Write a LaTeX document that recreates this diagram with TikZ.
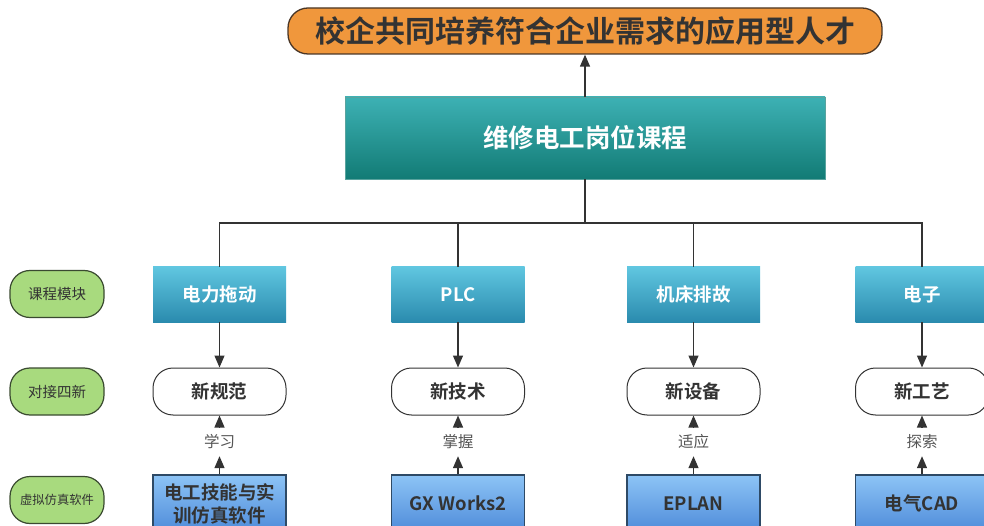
\documentclass[tikz,border=0pt]{standalone}
\usepackage{fontspec}
\setmainfont{Noto Sans CJK SC}
\newfontfamily\cjkb{Noto Sans CJK SC Bold}
\usetikzlibrary{arrows.meta}
\definecolor{orangefill}{HTML}{F0973C}
\definecolor{orangeline}{HTML}{4A3626}
\definecolor{darktxt}{HTML}{333333}
\definecolor{tealtop}{HTML}{3DB1B4}
\definecolor{tealbot}{HTML}{127B75}
\definecolor{modtop}{HTML}{60C6E0}
\definecolor{modbot}{HTML}{2A8BAE}
\definecolor{bluetop}{HTML}{8DC4F6}
\definecolor{bluebot}{HTML}{4E8BD9}
\definecolor{blueline}{HTML}{2E4A66}
\definecolor{greenfill}{HTML}{A8DA7E}
\definecolor{greenline}{HTML}{3A4A30}
\definecolor{labgrey}{HTML}{555555}
\tikzset{
  goalbox/.style={draw=orangeline, line width=1.3pt, fill=orangefill, rounded corners=20pt,
    minimum width=594pt, minimum height=46pt, text=darktxt, font=\cjkb\fontsize{30}{32}\selectfont},
  mainbox/.style={top color=tealtop, bottom color=tealbot, draw=tealbot!70, minimum width=480pt,
    minimum height=82pt, text=white, font=\cjkb\fontsize{25.5}{28}\selectfont},
  modbox/.style={top color=modtop, bottom color=modbot, minimum width=133pt, minimum height=55pt,
    text=white, font=\cjkb\fontsize{18.5}{22}\selectfont},
  newbox/.style={draw=darktxt, line width=1pt, fill=white, rounded corners=20pt, minimum width=133pt,
    minimum height=47pt, text=darktxt, font=\cjkb\fontsize{18.5}{22}\selectfont},
  softbox/.style={top color=bluetop, bottom color=bluebot, draw=blueline, line width=1.3pt,
    minimum width=133pt, minimum height=57pt, text=darktxt, align=center,
    font=\cjkb\fontsize{18.5}{23}\selectfont},
  sidebox/.style={draw=greenline, line width=1.2pt, fill=greenfill, rounded corners=20pt,
    minimum width=94pt, minimum height=47pt, text=darktxt, font=\fontsize{14.5}{16}\selectfont},
  lab/.style={inner sep=0pt, minimum height=28pt, text=labgrey, font=\fontsize{15.5}{17}\selectfont},
  conn/.style={draw=darktxt, line width=1.3pt},
  arr/.style={conn, -{Triangle[length=12pt,width=10pt]}},
}
\begin{document}
\begin{tikzpicture}[x=1pt,y=-1pt]
\useasboundingbox (0,0) rectangle (984,526);
\clip (0,0) rectangle (984,526);
\node[goalbox] (goal) at (585,31) {校企共同培养符合企业需求的应用型人才};
\node[mainbox] (main) at (585,138) {维修电工岗位课程};
\draw[arr] (main.north) -- (goal.south);

\node[modbox] (m1) at (219.5,294.5) {电力拖动};
\node[modbox] (m2) at (458,294.5) {PLC};
\node[modbox] (m3) at (693.5,294.5) {机床排故};
\node[modbox] (m4) at (922,294.5) {电子};

\coordinate (bus) at (585,223);
\draw[conn] (main.south) -- (bus);
\draw[conn] (m1.north) |- (bus) -| (m4.north);
\draw[conn] (m2.north) -- (m2.north |- bus);
\draw[conn] (m3.north) -- (m3.north |- bus);

\node[newbox] (n1) at (219.5,391.5) {新规范};
\node[newbox] (n2) at (458,391.5) {新技术};
\node[newbox] (n3) at (693.5,391.5) {新设备};
\node[newbox] (n4) at (922,391.5) {新工艺};

\foreach \i in {1,2,3,4} { \draw[arr] (m\i.south) -- (n\i.north); }

\node[softbox] (s1) at (219.5,503.5) {电工技能与实\\训仿真软件};
\node[softbox] (s2) at (458,503.5) {GX Works2};
\node[softbox] (s3) at (693.5,503.5) {EPLAN};
\node[softbox] (s4) at (922,503.5) {电气CAD};

\node[lab] (l1) at (219.5,442) {学习};
\node[lab] (l2) at (458,442) {掌握};
\node[lab] (l3) at (693.5,442) {适应};
\node[lab] (l4) at (922,442) {探索};

\foreach \i in {1,2,3,4} {
  \draw[arr] (s\i.north) -- (l\i.south);
  \draw[arr] (l\i.north) -- (n\i.south);
}

\node[sidebox] (g1) at (57,294) {课程模块};
\node[sidebox] (g2) at (57,391.5) {对接四新};
\node[sidebox, font=\fontsize{12.3}{14}\selectfont] (g3) at (57,500) {虚拟仿真软件};
\end{tikzpicture}
\end{document}
